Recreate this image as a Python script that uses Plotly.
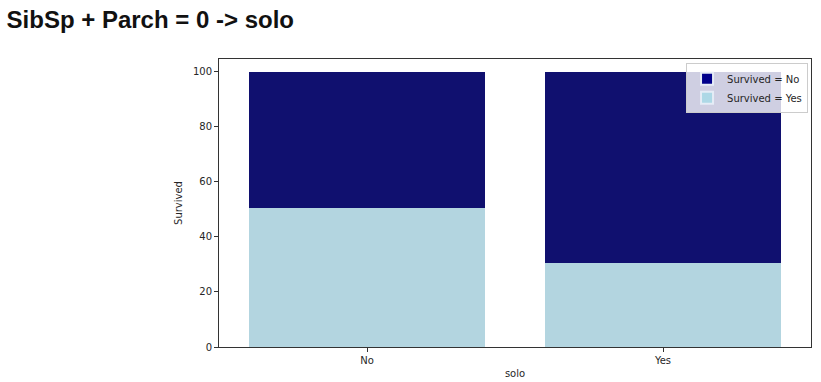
import plotly.graph_objects as go

categories = ["No", "Yes"]
total_pct = [100, 100]
survived_pct = [50.6, 30.4]
legend_labels = ["Survived = No", "Survived = Yes"]

bar_dark = "#10106f"
bar_light = "#b3d5e0"
leg_dark = "#00008b"
leg_light = "#add8e6"

not_survived_pct = [t - s for t, s in zip(total_pct, survived_pct)]

fig = go.Figure()
fig.add_trace(go.Bar(x=categories, y=survived_pct, marker=dict(color=bar_light, line=dict(width=0)),
                     width=0.8, showlegend=False))
fig.add_trace(go.Bar(x=categories, y=not_survived_pct, marker=dict(color=bar_dark, line=dict(width=0)),
                     width=0.8, showlegend=False))
fig.add_trace(go.Bar(x=[None], y=[None], name=legend_labels[0], marker=dict(color=leg_dark)))
fig.add_trace(go.Bar(x=[None], y=[None], name=legend_labels[1], marker=dict(color=leg_light)))

fig.update_layout(
    width=821, height=382,
    margin=dict(l=219, r=10, t=59, b=35, autoexpand=False),
    barmode="stack",
    plot_bgcolor="white", paper_bgcolor="white",
    font=dict(family="DejaVu Sans", size=10, color="#262626"),
    title=dict(text="<b>SibSp + Parch = 0 -> solo</b>", x=0.008, xanchor="left", y=0.948, yanchor="middle",
               font=dict(family="Liberation Sans, Arial", size=24, color="#111111")),
    legend=dict(x=0.995, y=0.985, xanchor="right", yanchor="top", traceorder="normal",
                bgcolor="rgba(255,255,255,0.8)", bordercolor="#cccccc", borderwidth=1,
                font=dict(size=10), itemsizing="constant", tracegroupgap=0),
    xaxis=dict(range=[-0.5, 1.5], showline=True, linecolor="#333333", linewidth=1, mirror=True,
               ticks="outside", ticklen=4, tickcolor="#333333", showgrid=False, automargin=False,
               title=dict(text="solo", standoff=4, font=dict(size=10))),
    yaxis=dict(range=[0, 104.7], showline=True, linecolor="#333333", linewidth=1, mirror=True,
               ticks="outside", ticklen=4, tickcolor="#333333", showgrid=False, zeroline=False,
               automargin=False, tickvals=[0, 20, 40, 60, 80, 100],
               title=dict(text="Survived", standoff=8, font=dict(size=10))),
)
fig.write_html("out.html")
